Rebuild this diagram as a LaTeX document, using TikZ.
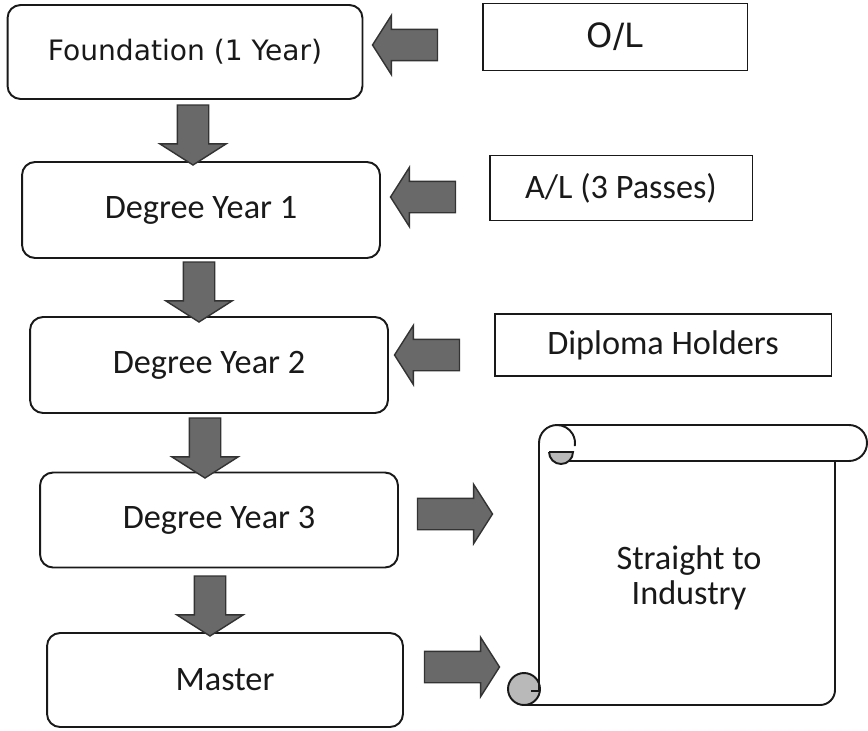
\documentclass[tikz,border=0pt]{standalone}
\usepackage{fontspec}
\setmainfont{Carlito}
\newfontfamily\verdfont{DejaVu Sans}
\usetikzlibrary{shapes.arrows}
\definecolor{inkgray}{RGB}{25,25,25}
\definecolor{arrowgray}{RGB}{105,105,105}
\definecolor{curlgray}{RGB}{185,185,185}

\tikzset{
  stagebox/.style={draw=inkgray, line width=1.1pt, rounded corners=0.26cm, text=inkgray, font=\fontsize{19.5}{22}\selectfont},
  entrybox/.style={draw=inkgray, line width=1.1pt, text=inkgray, font=\fontsize{19.5}{22}\selectfont},
  blockarrow/.style={single arrow, draw=black!80, fill=arrowgray, line width=0.8pt, inner xsep=0pt, inner ysep=0.3cm, single arrow head extend=0.28cm, single arrow tip angle=115},
  downarrow/.style={blockarrow, shape border rotate=270, inner xsep=0.3cm, inner ysep=0pt, minimum height=1.2cm, single arrow head extend=0.35cm},
  leftarrow/.style={blockarrow, shape border rotate=180, minimum height=1.3cm},
  rightarrow/.style={blockarrow, minimum height=1.5cm},
  scrollline/.style={draw=inkgray, line width=1.1pt},
}

\begin{document}
\begin{tikzpicture}[x=0.02cm, y=-0.02cm]
  \useasboundingbox (0,0) rectangle (868,730);

  % study stages
  \node[stagebox, minimum width=7.1cm, minimum height=1.88cm, font=\verdfont\fontsize{16}{19}\selectfont] (found) at (185,52) {Foundation (1 Year)};
  \node[stagebox, minimum width=7.16cm, minimum height=1.92cm] (deg1) at (201,210) {Degree Year 1};
  \node[stagebox, minimum width=7.16cm, minimum height=1.92cm] (deg2) at (209,365) {Degree Year 2};
  \node[stagebox, minimum width=7.16cm, minimum height=1.9cm] (deg3) at (219,520) {Degree Year 3};
  \node[stagebox, minimum width=7.12cm, minimum height=1.88cm] (master) at (225,680) {Master};

  % entry routes
  \node[entrybox, minimum width=5.3cm, minimum height=1.34cm, font=\verdfont\fontsize{19}{22}\selectfont] (ol) at (615,37) {O/L};
  \node[entrybox, minimum width=5.26cm, minimum height=1.3cm] (al) at (621,188) {A/L (3 Passes)};
  \node[entrybox, minimum width=6.74cm, minimum height=1.24cm] (dipl) at (663,345) {Diploma Holders};

  % block arrows
  \node[leftarrow] (olarrow) at (410,45) {};
  \node[leftarrow] (alarrow) at (428,197) {};
  \node[leftarrow] (diparrow) at (432,355) {};
  \node[downarrow] (down1) at (193,130) {};
  \node[downarrow] (down2) at (199,287) {};
  \node[downarrow] (down3) at (205,443) {};
  \node[downarrow] (down4) at (210,601) {};
  \node[rightarrow] (out3) at (450,514) {};
  \node[rightarrow] (outm) at (457,667) {};

  % scroll
  \draw[scrollline] (557,425) -- (849,425) arc[start angle=90, end angle=-90, radius=0.36cm] -- (561,461);
  \draw[scrollline] (539,690) -- (539,443) arc[start angle=180, end angle=-10, radius=0.36cm];
  \filldraw[scrollline, fill=curlgray] (549,452) -- (573,452) arc[start angle=0, end angle=-180, radius=0.24cm] -- cycle;
  \draw[scrollline] (835,461) -- (835,690) arc[start angle=0, end angle=-90, radius=0.3cm] -- (524,705);
  \filldraw[scrollline, fill=curlgray] (524,689) circle[radius=0.32cm];
  \draw[scrollline] (539,676) -- (539,691) -- (531,691);
  \node[font=\fontsize{19.5}{20}\selectfont, text=inkgray, align=center] (industry) at (689,578) {Straight to\\Industry};
\end{tikzpicture}
\end{document}
